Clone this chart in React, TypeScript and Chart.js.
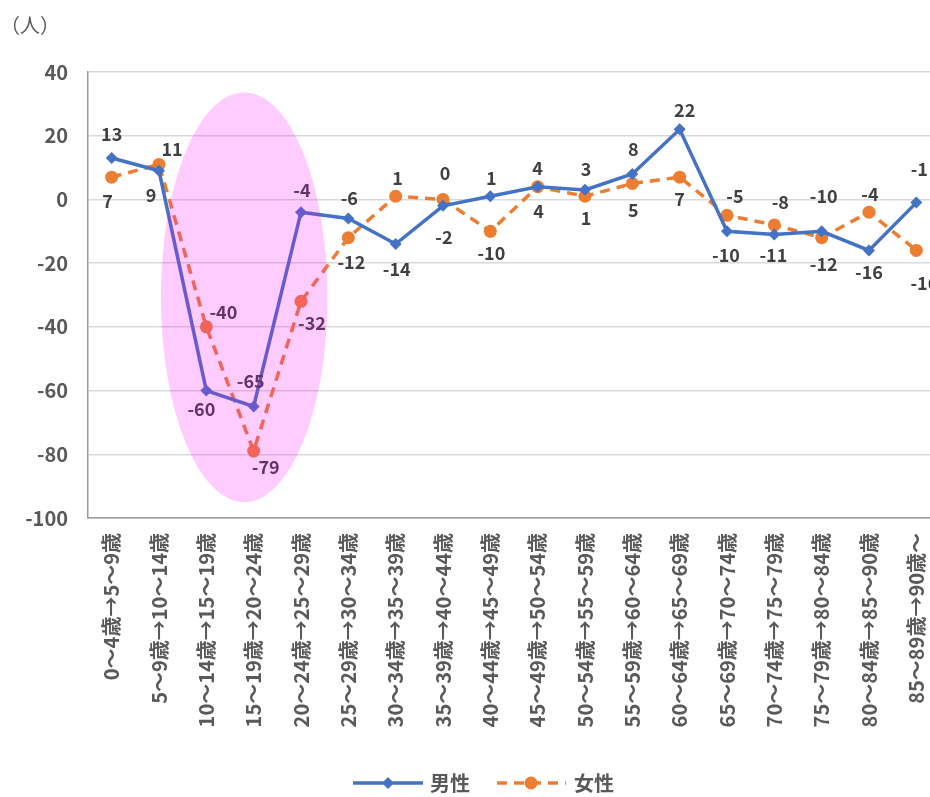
import React, { useEffect, useRef } from "react";
import { Chart, registerables } from "chart.js";

Chart.register(...registerables);

const categories = [
  "0～4歳→5～9歳",
  "5～9歳→10～14歳",
  "10～14歳→15～19歳",
  "15～19歳→20～24歳",
  "20～24歳→25～29歳",
  "25～29歳→30～34歳",
  "30～34歳→35～39歳",
  "35～39歳→40～44歳",
  "40～44歳→45～49歳",
  "45～49歳→50～54歳",
  "50～54歳→55～59歳",
  "55～59歳→60～64歳",
  "60～64歳→65～69歳",
  "65～69歳→70～74歳",
  "70～74歳→75～79歳",
  "75～79歳→80～84歳",
  "80～84歳→85～90歳",
  "85～89歳→90歳～",
];

const maleValues = [13, 9, -60, -65, -4, -6, -14, -2, 1, 4, 3, 8, 22, -10, -11, -10, -16, -1];
const femaleValues = [7, 11, -40, -79, -32, -12, 1, 0, -10, 4, 1, 5, 7, -5, -8, -12, -4, -16];

const seriesNames = ["男性", "女性"];
const yUnit = "（人）";
const yMin = -100;
const yMax = 40;
const yStep = 20;

// highlight ellipse extent in data units (category index, value)
const ellipseIndexRange = [1.04, 4.56];
const ellipseValueRange = [33.6, -95];

// label offsets (dx, dy) in px, style only
const maleLabelOffsets = [
  [0, -24], [-8, 24], [-5, 19], [-3, -25], [1, -22], [1, -20], [1, 25], [1, 31],
  [1, -18], [0, -19], [1, -21], [1, -25], [5, -19], [-1, 24], [-1, 21], [2, -35],
  [0, 22], [3, -33],
];
const femaleLabelOffsets = [
  [-4, 24], [13, -15], [17, -15], [12, 16], [11, 22], [3, 24], [2, -18], [2, -26],
  [1, 22], [1, 24], [1, 22], [1, 27], [0, 22], [8, -19], [6, -23], [2, 26],
  [1, -18], [8, 33],
];

const BLUE = "#4472C4";
const ORANGE = "#ED7D31";
const TEXT = "#595959";
const LABEL = "#404040";
const FONT = '"Noto Sans CJK JP", "Noto Sans", sans-serif';

const overlayPlugin = {
  id: "overlay",
  afterDatasetsDraw(chart: any) {
    const ctx = chart.ctx;
    const xs = chart.scales.x;
    const ys = chart.scales.y;
    ctx.save();
    ctx.font = `bold 18px ${FONT}`;
    ctx.fillStyle = LABEL;
    ctx.textAlign = "center";
    ctx.textBaseline = "middle";
    const drawLabels = (dsIndex: number, values: number[], offs: number[][]) => {
      const meta = chart.getDatasetMeta(dsIndex);
      meta.data.forEach((pt: any, i: number) => {
        const o = offs[i] || [0, -20];
        ctx.fillText(String(values[i]), pt.x + o[0], pt.y + o[1]);
      });
    };
    drawLabels(0, maleValues, maleLabelOffsets);
    drawLabels(1, femaleValues, femaleLabelOffsets);

    // highlight ellipse
    const x1 = xs.getPixelForValue(ellipseIndexRange[0]);
    const x2 = xs.getPixelForValue(ellipseIndexRange[1]);
    const y1 = ys.getPixelForValue(ellipseValueRange[0]);
    const y2 = ys.getPixelForValue(ellipseValueRange[1]);
    ctx.beginPath();
    ctx.ellipse((x1 + x2) / 2, (y1 + y2) / 2, Math.abs(x2 - x1) / 2, Math.abs(y2 - y1) / 2, 0, 0, Math.PI * 2);
    ctx.fillStyle = "rgba(255, 0, 255, 0.2)";
    ctx.fill();
    ctx.restore();
  },
  afterDraw(chart: any) {
    const ctx = chart.ctx;
    ctx.save();
    // unit title
    ctx.font = `20px ${FONT}`;
    ctx.fillStyle = TEXT;
    ctx.textAlign = "left";
    ctx.textBaseline = "middle";
    ctx.fillText(yUnit, 0, 25);

    // legend
    const ly = 783;
    ctx.lineWidth = 3.5;
    ctx.strokeStyle = BLUE;
    ctx.beginPath();
    ctx.moveTo(353, ly);
    ctx.lineTo(423, ly);
    ctx.stroke();
    ctx.fillStyle = BLUE;
    ctx.beginPath();
    ctx.moveTo(388, ly - 6);
    ctx.lineTo(394, ly);
    ctx.lineTo(388, ly + 6);
    ctx.lineTo(382, ly);
    ctx.closePath();
    ctx.fill();

    ctx.strokeStyle = ORANGE;
    ctx.setLineDash([10, 7]);
    ctx.beginPath();
    ctx.moveTo(497, ly);
    ctx.lineTo(566, ly);
    ctx.stroke();
    ctx.setLineDash([]);
    ctx.fillStyle = ORANGE;
    ctx.beginPath();
    ctx.arc(531, ly, 6.5, 0, Math.PI * 2);
    ctx.fill();

    ctx.font = `bold 20px ${FONT}`;
    ctx.fillStyle = TEXT;
    ctx.textAlign = "left";
    ctx.fillText(seriesNames[0], 430, ly);
    ctx.fillText(seriesNames[1], 574, ly);
    ctx.restore();
  },
};

export default function App() {
  const ref = useRef<HTMLCanvasElement | null>(null);
  useEffect(() => {
    if (!ref.current) return;
    const chart = new Chart(ref.current, {
      type: "line",
      data: {
        labels: categories,
        datasets: [
          {
            label: seriesNames[0],
            data: maleValues,
            borderColor: BLUE,
            backgroundColor: BLUE,
            borderWidth: 3.5,
            pointStyle: "rectRot",
            pointRadius: 6,
            pointBorderWidth: 0,
            tension: 0,
          },
          {
            label: seriesNames[1],
            data: femaleValues,
            borderColor: ORANGE,
            backgroundColor: ORANGE,
            borderWidth: 3.5,
            borderDash: [10, 7],
            pointStyle: "circle",
            pointRadius: 6.5,
            pointBorderWidth: 0,
            tension: 0,
          },
        ],
      },
      options: {
        responsive: false,
        animation: false,
        layout: { padding: { left: 0, right: 10, top: 72, bottom: 0 } },
        plugins: {
          legend: { display: false },
          tooltip: { enabled: false },
        },
        scales: {
          x: {
            offset: true,
            grid: { display: false, drawTicks: false },
            border: { display: true, color: "#9a9a9a", width: 1.5 },
            ticks: {
              autoSkip: false,
              minRotation: 90,
              maxRotation: 90,
              padding: 15,
              color: TEXT,
              font: { family: FONT, size: 20, weight: "bold" },
            },
            afterFit(scale: any) {
              scale.height = 279;
              scale.paddingLeft = 0;
              scale.paddingRight = 0;
            },
          },
          y: {
            min: yMin,
            max: yMax,
            ticks: {
              stepSize: yStep,
              padding: 20,
              color: TEXT,
              font: { family: FONT, size: 20, weight: "bold" },
            },
            grid: { color: "#d9d9d9", lineWidth: 1.5, drawTicks: false },
            border: { display: true, color: "#9a9a9a", width: 1.5 },
            afterFit(scale: any) {
              scale.width = 88;
            },
          },
        },
      },
      plugins: [overlayPlugin],
    });
    return () => chart.destroy();
  }, []);
  return (
    <div style={{ position: "absolute", left: 0, top: 0, width: 930, height: 797, overflow: "hidden", background: "#fff" }}>
      <canvas ref={ref} width={950} height={797} style={{ width: 950, height: 797, display: "block" }} />
    </div>
  );
}
